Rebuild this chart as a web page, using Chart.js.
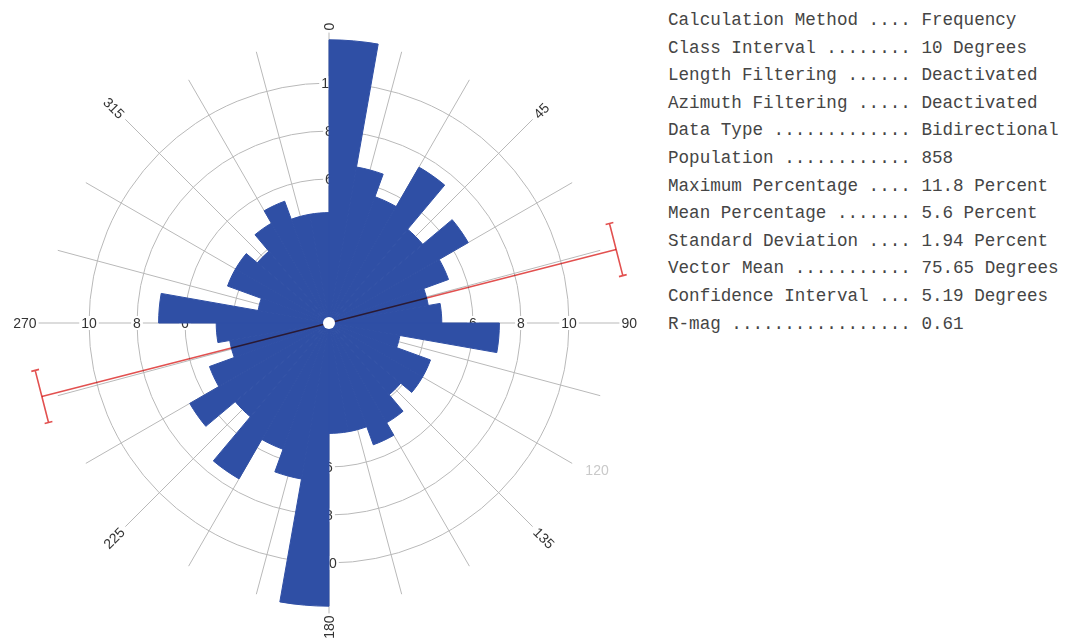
<!DOCTYPE html>
<html>
<head>
<meta charset="utf-8">
<title>Rose diagram</title>
<script src="https://cdn.jsdelivr.net/npm/chart.js@4.4.1/dist/chart.umd.min.js"></script>
<style>
  html, body { margin: 0; padding: 0; background: #fff; }
  #rose { position: absolute; left: 0; top: 0; width: 660px; height: 639px; }
  #stats {
    position: absolute; left: 668px; top: 7px; margin: 0;
    font: 17.6px/27.6px "Liberation Mono", monospace; color: #454545;
  }
</style>
</head>
<body>
<div id="rose"><canvas id="roseChart"></canvas></div>
<pre id="stats"></pre>
<script>
// percent of population per 10 degree class, 0-180; data is bidirectional so 180-360 repeats it
const halfRose = [11.8, 6.6, 5.6, 7.5, 5.1, 6.7, 5.3, 4.2, 4.7, 7.1, 3.0, 4.5, 4.5, 3.9, 4.8, 5.4, 4.6, 4.6];
const roseValues = halfRose.concat(halfRose);
const binLabels = roseValues.map((v, i) => `${i * 10}-${i * 10 + 10}`);
const ringTicks = [2, 4, 6, 8, 10];
const compassLabels = [0, 45, 90, 135, 180, 225, 270, 315];
const vectorMean = 75.65;
const confidence = 5.19;

const statNames = [
  "Calculation Method", "Class Interval", "Length Filtering", "Azimuth Filtering",
  "Data Type", "Population", "Maximum Percentage", "Mean Percentage",
  "Standard Deviation", "Vector Mean", "Confidence Interval", "R-mag"
];
const statValues = [
  "Frequency", "10 Degrees", "Deactivated", "Deactivated",
  "Bidirectional", "858", "11.8 Percent", "5.6 Percent",
  "1.94 Percent", "75.65 Degrees", "5.19 Degrees", "0.61"
];

document.getElementById("stats").textContent = statNames
  .map((n, i) => (n + " ").padEnd(23, ".") + " " + statValues[i])
  .join("\n");

const blue = "#2f4fa5";
const ringColor = "#b9b9b9";
const deg = Math.PI / 180;

// point at compass angle (clockwise from north) and radial value
function polar(scale, angle, value, extra) {
  const d = scale.getDistanceFromCenterForValue(value) + (extra || 0);
  return {
    x: scale.xCenter + d * Math.sin(angle * deg),
    y: scale.yCenter - d * Math.cos(angle * deg),
  };
}

const roseExtras = {
  id: "roseExtras",
  beforeDatasetsDraw(chart) {
    const r = chart.scales.r;
    const ctx = chart.ctx;
    ctx.save();
    // spokes every 15 degrees, under the petals
    ctx.strokeStyle = ringColor;
    ctx.lineWidth = 1;
    for (let a = 0; a < 360; a += 15) {
      const len = a % 90 === 0 ? 12.1 : a % 45 === 0 ? 12 : 11.7;
      const p = polar(r, a, len);
      ctx.beginPath();
      ctx.moveTo(r.xCenter, r.yCenter);
      ctx.lineTo(p.x, p.y);
      ctx.stroke();
    }
    // ring values along the four main axes
    ctx.font = "14px 'Liberation Sans', Arial, sans-serif";
    ctx.textAlign = "center";
    ctx.textBaseline = "middle";
    [0, 90, 180, 270].forEach((a) => {
      ringTicks.forEach((t) => {
        const p = polar(r, a, t);
        const w = ctx.measureText(String(t)).width;
        ctx.fillStyle = "#fff";
        ctx.fillRect(p.x - w / 2 - 2, p.y - 7, w + 4, 14);
        ctx.fillStyle = "#333";
        ctx.fillText(String(t), p.x, p.y + 1);
      });
    });
    ctx.restore();
  },
  afterDatasetsDraw(chart) {
    const r = chart.scales.r;
    const ctx = chart.ctx;
    ctx.save();

    // vector mean with confidence interval bars at both ends
    const endVal = 12.35;
    ctx.globalCompositeOperation = "multiply";
    ctx.strokeStyle = "#e2504f";
    ctx.lineWidth = 1.6;
    const a1 = polar(r, vectorMean, endVal);
    const a2 = polar(r, vectorMean + 180, endVal);
    ctx.beginPath();
    ctx.moveTo(a2.x, a2.y);
    ctx.lineTo(a1.x, a1.y);
    ctx.stroke();
    const half = r.getDistanceFromCenterForValue(endVal) * Math.tan(confidence * deg);
    [vectorMean, vectorMean + 180].forEach((a) => {
      const p = polar(r, a, endVal);
      const ux = Math.sin(a * deg), uy = -Math.cos(a * deg);
      const px = -uy, py = ux;
      ctx.beginPath();
      ctx.moveTo(p.x - px * half, p.y - py * half);
      ctx.lineTo(p.x + px * half, p.y + py * half);
      [-1, 1].forEach((s) => {
        const cx = p.x + s * px * half, cy = p.y + s * py * half;
        ctx.moveTo(cx - ux * 4, cy - uy * 4);
        ctx.lineTo(cx + ux * 4, cy + uy * 4);
      });
      ctx.stroke();
    });
    ctx.globalCompositeOperation = "source-over";

    // white hub
    ctx.fillStyle = "#fff";
    ctx.beginPath();
    ctx.arc(r.xCenter, r.yCenter, 6, 0, 2 * Math.PI);
    ctx.fill();

    // compass labels, written along their spokes
    ctx.font = "14px 'Liberation Sans', Arial, sans-serif";
    ctx.fillStyle = "#333";
    ctx.textBaseline = "middle";
    compassLabels.forEach((a) => {
      const p = polar(r, a, 12.1, 2);
      ctx.save();
      ctx.translate(p.x, p.y);
      ctx.rotate((a <= 135 ? a - 90 : a - 270) * deg);
      ctx.textAlign = a <= 135 ? "left" : "right";
      ctx.fillText(String(a), 0, 1);
      ctx.restore();
    });
    // faded 120 mark
    const f = polar(r, 120, 12, 8);
    ctx.fillStyle = "#c9c9c9";
    ctx.textAlign = "left";
    ctx.fillText("120", f.x, f.y);
    ctx.restore();
  },
};

new Chart(document.getElementById("roseChart"), {
  type: "polarArea",
  data: {
    labels: binLabels,
    datasets: [
      {
        data: roseValues,
        backgroundColor: blue,
        borderColor: blue,
        borderWidth: 1,
      },
    ],
  },
  options: {
    responsive: true,
    maintainAspectRatio: false,
    animation: false,
    layout: { padding: { left: 41, right: 43, top: 35, bottom: 28 } },
    plugins: {
      legend: { display: false },
      tooltip: { enabled: false },
    },
    scales: {
      r: {
        min: 0,
        max: 12,
        startAngle: 0,
        ticks: { display: false, stepSize: 2 },
        angleLines: { display: false },
        pointLabels: { display: false },
        grid: {
          circular: true,
          lineWidth: 1,
          color: (c) => (c.tick && c.tick.value >= 12 ? "rgba(0,0,0,0)" : ringColor),
        },
      },
    },
  },
  plugins: [roseExtras],
});
</script>
</body>
</html>
